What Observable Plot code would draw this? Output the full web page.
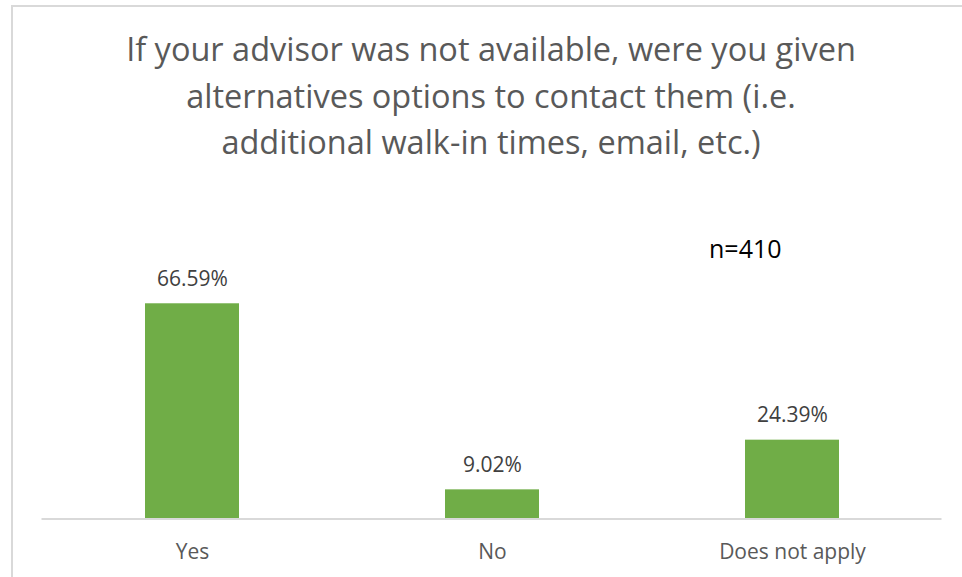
<!DOCTYPE html>
<html>
<head>
<meta charset="utf-8">
<script src="https://cdn.jsdelivr.net/npm/d3@7"></script>
<script src="https://cdn.jsdelivr.net/npm/@observablehq/plot@0.6"></script>
<style>
  html, body { margin: 0; padding: 0; background: #fff; }
  #wrap { position: relative; width: 962px; height: 577px; overflow: hidden; background: #fff; }
  #frame { position: absolute; left: 11px; top: 5px; width: 980px; height: 600px; border-left: 2px solid #d9d9d9; border-top: 2px solid #d9d9d9; box-sizing: border-box; }
  #title { position: absolute; left: 0; top: 26px; width: 982px; text-align: center; font-family: "Open Sans", sans-serif; font-weight: 400; font-size: 32.5px; line-height: 46.5px; color: #595959; }
  #note { position: absolute; left: 709px; top: 231px; font-family: "Open Sans", sans-serif; font-size: 25px; color: #000; }
  #chart { position: absolute; left: 0; top: 0; }
</style>
</head>
<body>
<div id="wrap">
  <div id="frame"></div>
  <div id="chart"></div>
  <div id="title">If your advisor was not available, were you given<br>alternatives options to contact them (i.e.<br>additional walk-in times, email, etc.)</div>
  <div id="note">n=410</div>
</div>
<script>
const categories = ["Yes", "No", "Does not apply"];
const values = [66.59, 9.02, 24.39];
const labels = ["66.59%", "9.02%", "24.39%"];

const data = categories.map((c, i) => ({category: c, value: values[i], label: labels[i]}));

const chart = Plot.plot({
  width: 962,
  height: 577,
  marginLeft: 41.5,
  marginRight: 20.5,
  marginTop: 195.3,
  marginBottom: 58.5,
  style: {background: "transparent", fontFamily: "Open Sans, sans-serif"},
  x: {domain: categories, paddingInner: 0.687, paddingOuter: 0.3435, label: null},
  y: {domain: [0, 100], axis: null},
  marks: [
    Plot.barY(data, {x: "category", y: "value", fill: "#70ad47"}),
    Plot.ruleY([0], {stroke: "#d9d9d9", strokeWidth: 2}),
    Plot.text(data, {x: "category", y: "value", text: "label", dy: -25, fontSize: 21, fill: "#404040"}),
    Plot.axisX({tickSize: 0, tickPadding: 25, fontSize: 21, fill: "#595959", label: null})
  ]
});
document.getElementById("chart").appendChild(chart);
</script>
</body>
</html>
